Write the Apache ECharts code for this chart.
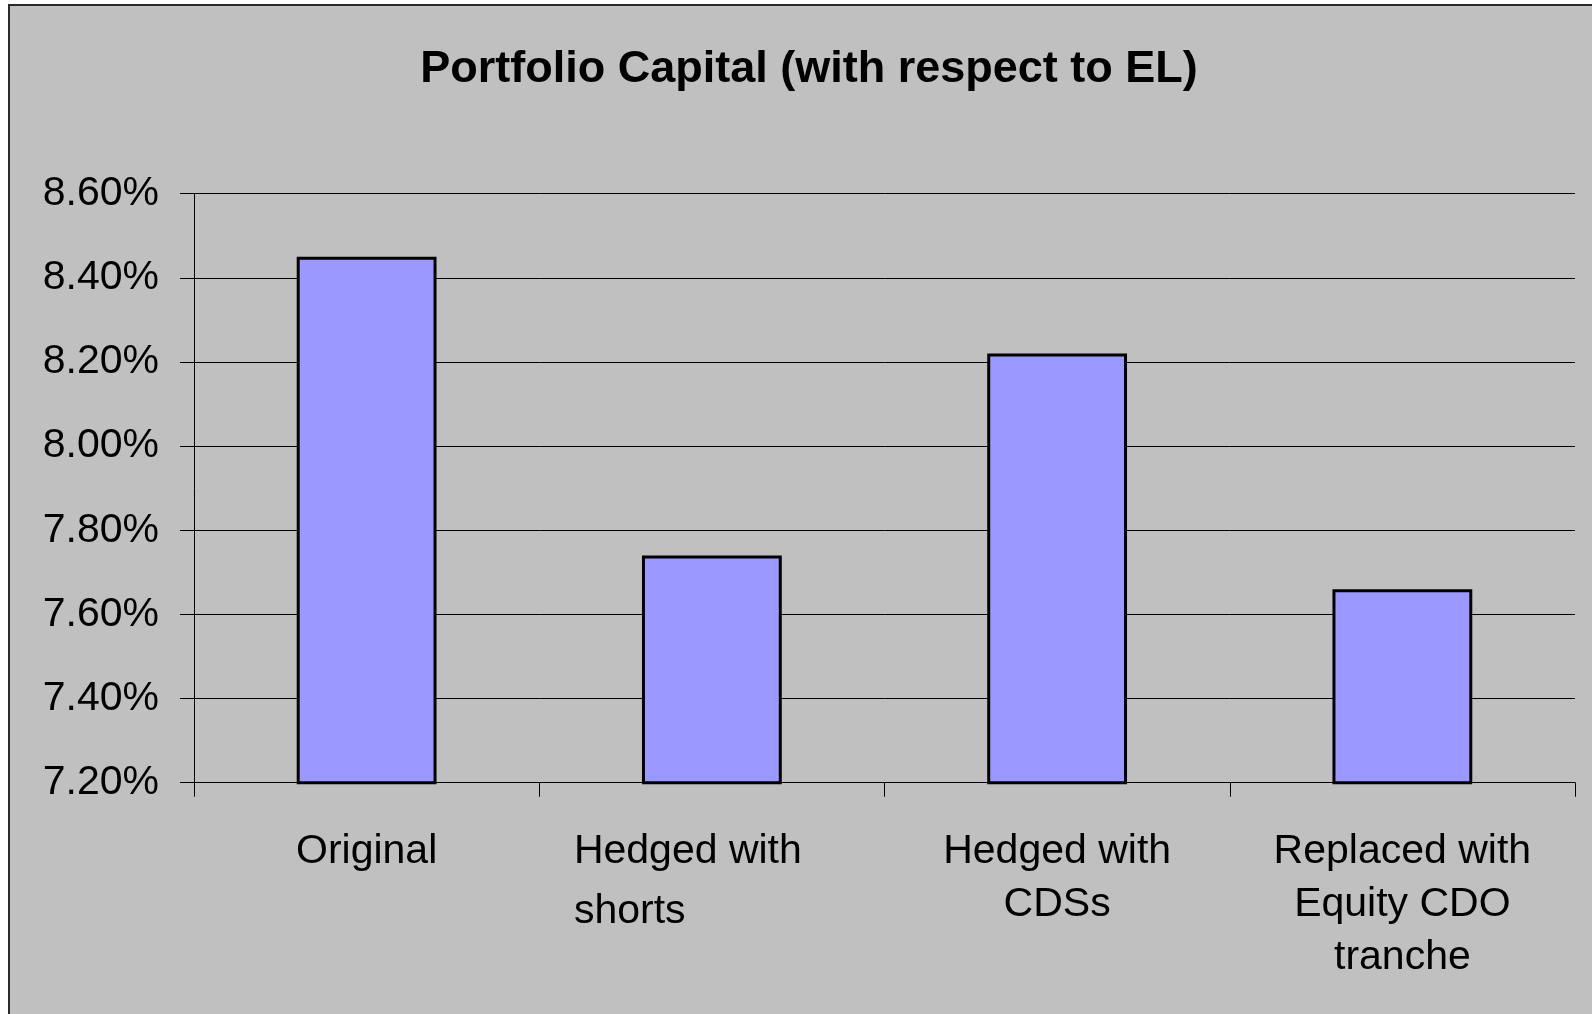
<!DOCTYPE html>
<html>
<head>
<meta charset="utf-8">
<title>Portfolio Capital (with respect to EL)</title>
<script src="https://cdn.jsdelivr.net/npm/echarts@6/dist/echarts.min.js"></script>
<style>
  html, body { margin: 0; padding: 0; background: #ffffff; }
  #chart { width: 1592px; height: 1014px; }
</style>
</head>
<body>
<div id="chart"></div>
<script>
// Scenario names (x categories) and capital as % of expected loss
const categories = ['Original', 'Hedged with\nshorts', 'Hedged with\nCDSs', 'Replaced with\nEquity CDO\ntranche'];
const capitalPct = [8.45, 7.74, 8.22, 7.66];

// Value axis range and step (percent)
const yMin = 7.2;
const yMax = 8.6;
const yStep = 0.2;

const titleText = 'Portfolio Capital (with respect to EL)';

const FONT = '"Liberation Sans", Arial, Helvetica, sans-serif';

const chart = echarts.init(document.getElementById('chart'), null, { renderer: 'canvas' });

chart.setOption({
  backgroundColor: '#ffffff',
  animation: false,
  graphic: [{
    type: 'rect',
    z: -100,
    silent: true,
    shape: { x: 9, y: 5, width: 1620, height: 1040 },
    style: { fill: '#c0c0c0', stroke: '#2a2a2a', lineWidth: 2 }
  }],
  title: {
    text: titleText,
    left: 809,
    top: 47,
    textAlign: 'center',
    padding: 0,
    textStyle: {
      fontFamily: FONT,
      fontSize: 45,
      fontWeight: 'bold',
      color: '#000000',
      lineHeight: 45
    }
  },
  grid: {
    left: 194,
    right: 17,
    top: 193.7,
    bottom: 231.3,
    containLabel: false
  },
  xAxis: {
    type: 'category',
    data: categories,
    boundaryGap: true,
    axisLine: { show: true, lineStyle: { color: '#000000', width: 1 } },
    axisTick: { show: true, inside: false, length: 14, alignWithLabel: false, lineStyle: { color: '#000000', width: 1 } },
    axisLabel: {
      interval: 0,
      margin: 42,
      fontFamily: FONT,
      fontSize: 41,
      color: '#000000',
      lineHeight: 53,
      align: 'center',
      formatter: function (value) {
        if (value === 'Hedged with\nshorts') {
          const lines = value.split('\n');
          return '{a|' + lines[0] + '}\n{b|' + lines[1] + '}';
        }
        return value;
      },
      rich: {
        a: { fontFamily: FONT, fontSize: 41, color: '#000000', width: 276, align: 'left', lineHeight: 53 },
        b: { fontFamily: FONT, fontSize: 41, color: '#000000', width: 276, align: 'left', lineHeight: 67 }
      }
    },
    splitLine: { show: false }
  },
  yAxis: {
    type: 'value',
    min: yMin,
    max: yMax,
    interval: yStep,
    axisLine: { show: true, lineStyle: { color: '#000000', width: 1 } },
    axisTick: { show: true, inside: false, length: 14, lineStyle: { color: '#000000', width: 1 } },
    axisLabel: {
      margin: 35,
      fontFamily: FONT,
      fontSize: 41,
      color: '#000000',
      formatter: function (v) { return v.toFixed(2) + '%'; }
    },
    splitLine: { show: true, lineStyle: { color: '#000000', width: 1 } }
  },
  series: [{
    type: 'bar',
    data: capitalPct,
    barWidth: '40.5%',
    itemStyle: {
      color: '#9999ff',
      borderColor: '#000000',
      borderWidth: 3
    },
    emphasis: { disabled: true }
  }]
});
</script>
</body>
</html>
